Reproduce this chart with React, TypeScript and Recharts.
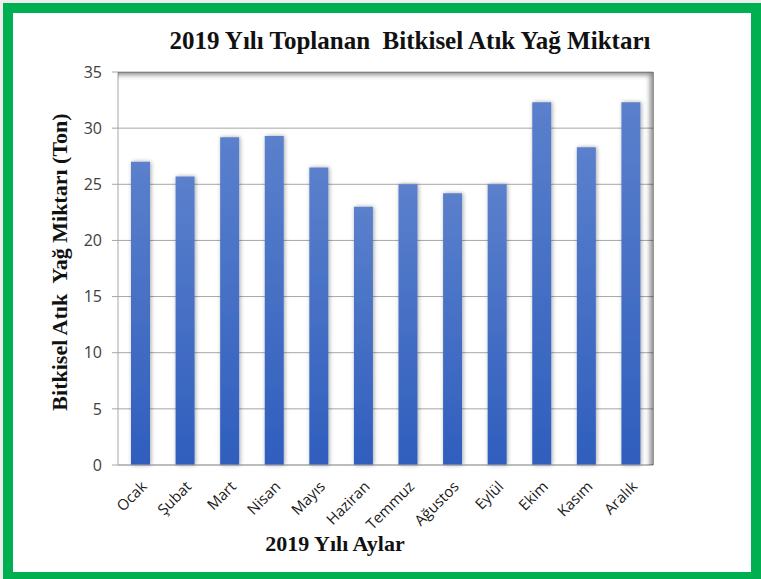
import { BarChart, Bar, XAxis, YAxis, CartesianGrid } from "recharts";

const months = [
  "Ocak",
  "Şubat",
  "Mart",
  "Nisan",
  "Mayıs",
  "Haziran",
  "Temmuz",
  "Ağustos",
  "Eylül",
  "Ekim",
  "Kasım",
  "Aralık",
];
const tons = [27, 25.7, 29.2, 29.3, 26.5, 23, 25, 24.2, 25, 32.3, 28.3, 32.3];
const yTicks = [0, 5, 10, 15, 20, 25, 30, 35];
const boundaryTicks = [0, 1, 2, 3, 4, 5, 6, 7, 8, 9, 10, 11, 12];

const data = months.map((m, i) => ({ month: m, ton: tons[i], pos: i + 0.5 }));

const serif = '"Liberation Serif", "DejaVu Serif", serif';
const sans = '"Open Sans", Lato, sans-serif';

function MonthTick({ x, y, payload }: any) {
  return (
    <g transform={`translate(${x + 4},${y + 11})`}>
      <text
        textAnchor="end"
        transform="rotate(-45)"
        fill="#1a1a1a"
        fontSize={15}
        fontFamily={sans}
        dy={5}
      >
        {payload.value}
      </text>
    </g>
  );
}

export default function App() {
  return (
    <div
      style={{
        position: "absolute",
        left: 0,
        top: 0,
        width: 761,
        height: 579,
        background: "#eeeeee",
        overflow: "hidden",
      }}
    >
      <div
        style={{
          position: "absolute",
          left: 3,
          top: 3,
          width: 758,
          height: 579,
          boxSizing: "border-box",
          border: "10px solid #00b050",
          background: "#ffffff",
        }}
      />
      <div
        style={{
          position: "absolute",
          left: 0,
          width: 820,
          textAlign: "center",
          top: 27,
          fontFamily: serif,
          fontWeight: "bold",
          fontSize: 25,
          color: "#111",
          whiteSpace: "pre",
        }}
      >
        {"2019 Yılı Toplanan  Bitkisel Atık Yağ Miktarı"}
      </div>
      <div style={{ position: "absolute", left: 0, top: 0 }}>
        <BarChart
          width={761}
          height={579}
          data={data}
          margin={{ top: 72, right: 108, bottom: 54, left: 78 }}
        >
          <defs>
            <linearGradient id="barFill" x1="0" y1="0" x2="0" y2="1">
              <stop offset="0%" stopColor="#5b80cc" />
              <stop offset="100%" stopColor="#2f5ebd" />
            </linearGradient>
            <filter id="barShadow" x="-50%" y="-10%" width="200%" height="120%">
              <feDropShadow dx="1" dy="0" stdDeviation="2" floodColor="#000" floodOpacity="0.35" />
            </filter>
          </defs>
          <CartesianGrid vertical={false} stroke="#a6a6a6" strokeWidth={1} />
          <XAxis
            dataKey="month"
            xAxisId="cat"
            height={60}
            interval={0}
            tickLine={false}
            axisLine={{ stroke: "#a6a6a6" }}
            tick={<MonthTick />}
          />
          <XAxis
            dataKey="pos"
            xAxisId="edge"
            type="number"
            domain={[0, 12]}
            ticks={boundaryTicks}
            tickFormatter={() => ""}
            tickSize={6}
            tickLine={{ stroke: "#a6a6a6" }}
            axisLine={false}
            height={0}
          />
          <YAxis
            domain={[0, 35]}
            ticks={yTicks}
            width={40}
            tickSize={6}
            tickMargin={10}
            tickLine={{ stroke: "#a6a6a6" }}
            axisLine={{ stroke: "#a6a6a6" }}
            tick={{ fill: "#404040", fontSize: 16, fontFamily: sans }}
          />
          <Bar
            dataKey="ton"
            xAxisId="cat"
            barSize={19}
            fill="url(#barFill)"
            filter="url(#barShadow)"
            isAnimationActive={false}
          />
        </BarChart>
      </div>
      <div
        style={{
          position: "absolute",
          left: 118,
          top: 72,
          width: 536,
          height: 393,
          boxShadow: "inset -6px 5px 5px -2px rgba(0,0,0,0.45)",
          pointerEvents: "none",
        }}
      />
      <div
        style={{
          position: "absolute",
          left: 60,
          top: 262,
          transform: "translate(-50%, -50%) rotate(-90deg)",
          fontFamily: serif,
          fontWeight: "bold",
          fontSize: 22,
          color: "#111",
          whiteSpace: "pre",
        }}
      >
        {"Bitkisel Atık  Yağ Miktarı (Ton)"}
      </div>
      <div
        style={{
          position: "absolute",
          left: 335,
          top: 544,
          transform: "translate(-50%, -50%)",
          fontFamily: serif,
          fontWeight: "bold",
          fontSize: 22,
          color: "#111",
          whiteSpace: "pre",
        }}
      >
        2019 Yılı Aylar
      </div>
    </div>
  );
}
